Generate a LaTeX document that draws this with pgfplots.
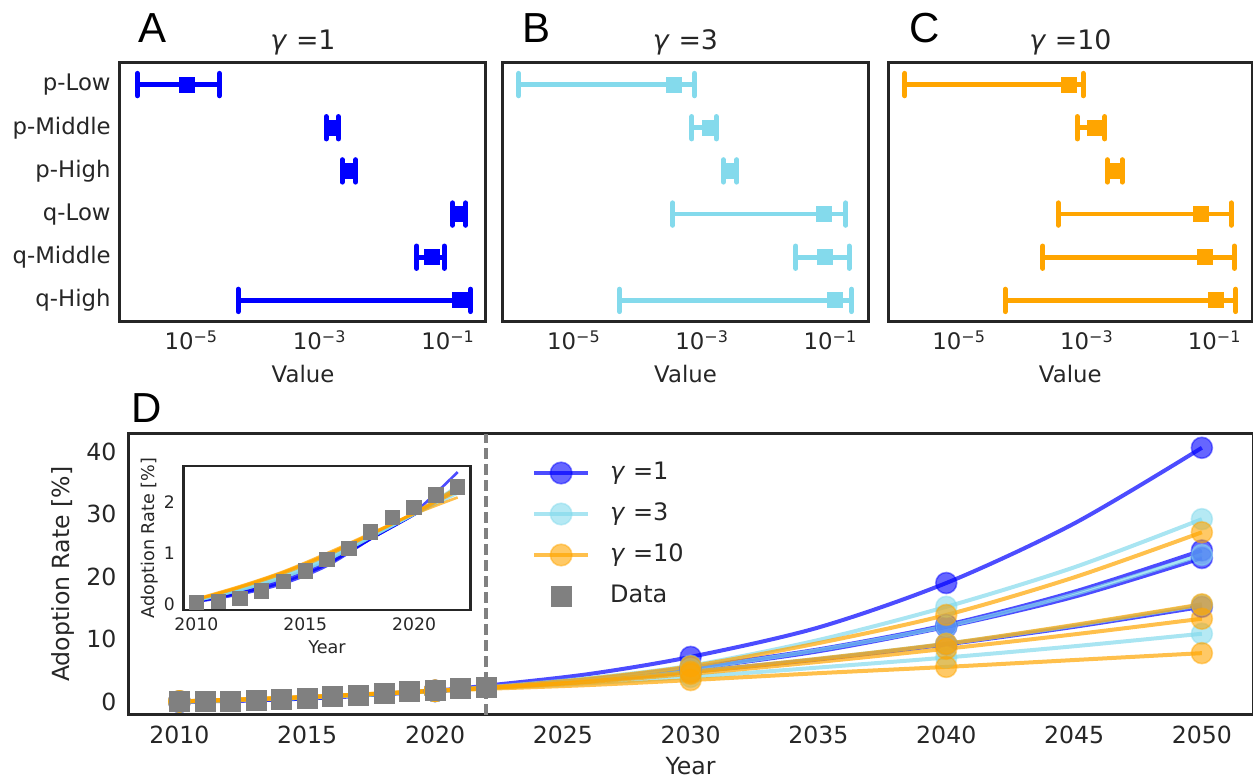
\documentclass[border=0pt]{standalone}
\usepackage{fontspec}
\setmainfont{DejaVu Sans}
\newfontfamily\letterfont{Liberation Sans}
\usepackage{pgfplots}
\pgfplotsset{compat=1.18}
\usepackage{pgfplotstable}
\definecolor{axcol}{RGB}{38,38,38}
\definecolor{cblue}{RGB}{0,0,255}
\definecolor{csky}{RGB}{132,218,236}
\definecolor{corange}{RGB}{255,165,0}
\definecolor{cgray}{RGB}{128,128,128}

\pgfplotstableread{
year val
2010 0.03
2011 0.05
2012 0.11
2013 0.26
2014 0.44
2015 0.65
2016 0.88
2017 1.09
2018 1.42
2019 1.71
2020 1.90
2021 2.15
2022 2.31
}\dataT

\pgfplotstableread{
year a b c d
2010 0.04 0.05 0.05 0.06
2012 0.19 0.21 0.22 0.25
2014 0.40 0.43 0.45 0.50
2016 0.75 0.78 0.80 0.85
2018 1.28 1.28 1.28 1.30
2020 1.80 1.76 1.76 1.76
2022 2.60 2.30 2.28 2.25
2026 4.45 3.60 3.50 3.30
2030 7.20 5.50 5.30 4.80
2035 11.9 8.40 8.10 6.80
2040 19.0 12.3 12.0 9.20
2045 28.5 17.6 16.8 12.0
2050 40.6 24.2 23.0 15.2
}\blueT

\pgfplotstableread{
year a b c d
2010 0.06 0.06 0.07 0.08
2012 0.27 0.27 0.29 0.31
2014 0.52 0.52 0.56 0.58
2016 0.86 0.86 0.90 0.92
2018 1.31 1.31 1.33 1.34
2020 1.78 1.77 1.77 1.76
2022 2.33 2.30 2.25 2.18
2026 3.80 3.50 3.30 3.00
2030 5.80 5.30 4.80 4.00
2035 9.90 8.30 6.90 5.50
2040 15.2 12.1 9.30 7.10
2045 21.5 17.2 12.2 8.90
2050 29.2 23.5 15.5 10.9
}\skyT

\pgfplotstableread{
year a b c d
2010 0.08 0.09 0.09 0.10
2012 0.32 0.33 0.34 0.35
2014 0.60 0.62 0.63 0.64
2016 0.95 0.97 0.98 1.00
2018 1.36 1.37 1.38 1.39
2020 1.80 1.79 1.79 1.77
2022 2.30 2.26 2.22 2.10
2026 3.70 3.30 3.20 2.70
2030 5.70 4.80 4.50 3.50
2035 9.40 6.90 6.40 4.60
2040 13.9 9.30 8.50 5.60
2045 19.9 12.3 10.8 6.70
2050 27.1 15.6 13.3 7.80
}\orangeT

% error bar row: colour, row, low, estimate, high
\newcommand{\eb}[5]{%
  \addplot[#1, line width=2.4pt, mark=|, mark size=5.6pt, mark options={line width=2.5pt, line cap=round}] coordinates {(#3,#2) (#5,#2)};
  \addplot[#1, only marks, mark=square*, mark size=3.75pt] coordinates {(#4,#2)};
}

\pgfplotsset{
  mybase/.style={scale only axis, axis line style={line width=1.5pt, draw=axcol},
    major tick length=0pt, minor tick length=0pt,
    tick label style={text=axcol, inner sep=0pt}, label style={text=axcol},
    /pgf/number format/assume math mode=true},
  toppanel/.style={mybase, height=129.5pt,
    xmin=7.76e-7, xmax=0.389, ymin=-0.5, ymax=5.5,
    xtick={1e-5,1e-3,1e-1},
    xticklabels={10\textsuperscript{−5},10\textsuperscript{−3},10\textsuperscript{−1}},
    xminorticks=false,
    tick label style={font=\fontsize{11.4}{13}\selectfont},
    xticklabel style={anchor=base, yshift=-14pt},
    yticklabel style={anchor=east, xshift=-4.5pt},
    xlabel={Value},
    xlabel style={font=\fontsize{11.4}{13}\selectfont, at={(axis description cs:0.5,-0.2355)}, anchor=base},
    title style={font=\fontsize{13.4}{15}\selectfont, text=axcol, at={(axis description cs:0.5,1.0039)}, anchor=base, yshift=0pt}},
  mline/.style={draw=#1, draw opacity=0.7, line width=2pt, smooth,
    mark=*, mark size=5.25pt, mark indices={1,6,9,11,13},
    mark options={draw=#1, fill=#1, draw opacity=0.45, fill opacity=0.6, line width=0.8pt}},
  lgline/.style={draw=#1, draw opacity=0.7, line width=2pt,
    mark=*, mark size=5.4pt,
    mark options={draw=#1, fill=#1, draw opacity=0.45, fill opacity=0.6, line width=0.8pt}},
  iline/.style={draw=#1, draw opacity=0.7, line width=1.3pt, smooth, no marks,
    restrict x to domain=2010:2022},
}

\begin{document}
\begin{tikzpicture}
\useasboundingbox (0,0) rectangle (626.5pt,-389.5pt);

% ---------- A ----------
\begin{axis}[xmode=log, toppanel, width=183pt, at={(60pt,-31.5pt)}, anchor=north west,
  ytick={0,1,2,3,4,5},
  yticklabels={q-High,q-Middle,q-Low,p-High,p-Middle,p-Low},
  title={\textit{γ} =1}]
\eb{cblue}{5}{1.45e-6}{8.5e-6}{2.75e-5}
\eb{cblue}{4}{1.26e-3}{1.58e-3}{1.95e-3}
\eb{cblue}{3}{2.24e-3}{2.75e-3}{3.63e-3}
\eb{cblue}{2}{0.117}{0.148}{0.188}
\eb{cblue}{1}{0.0324}{0.0569}{0.0871}
\eb{cblue}{0}{5.37e-5}{0.151}{0.224}
\end{axis}

% ---------- B ----------
\begin{axis}[xmode=log, toppanel, width=182.8pt, at={(251.35pt,-31.5pt)}, anchor=north west, ytick=\empty, title={\textit{γ} =3}]
\eb{csky}{5}{1.38e-6}{3.63e-4}{7.59e-4}
\eb{csky}{4}{6.92e-4}{1.32e-3}{1.66e-3}
\eb{csky}{3}{2.14e-3}{2.75e-3}{3.47e-3}
\eb{csky}{2}{3.47e-4}{0.0794}{0.174}
\eb{csky}{1}{0.0288}{0.0813}{0.195}
\eb{csky}{0}{5.13e-5}{0.117}{0.214}
\end{axis}

% ---------- C ----------
\begin{axis}[xmode=log, toppanel, width=182pt, at={(444.15pt,-31.5pt)}, anchor=north west, ytick=\empty, title={\textit{γ} =10}]
\eb{corange}{5}{1.41e-6}{5.13e-4}{8.71e-4}
\eb{corange}{4}{7.08e-4}{1.35e-3}{1.91e-3}
\eb{corange}{3}{2.09e-3}{2.75e-3}{3.55e-3}
\eb{corange}{2}{3.55e-4}{0.0617}{0.182}
\eb{corange}{1}{2.04e-4}{0.0708}{0.204}
\eb{corange}{0}{5.25e-5}{0.105}{0.214}
\end{axis}

% ---------- D ----------
\begin{axis}[mybase, at={(64.15pt,-217pt)}, anchor=north west,
  width=562.35pt, height=140.25pt,
  xmin=2008, xmax=2052, ymin=-2, ymax=42.8,
  xtick={2010,2015,2020,2025,2030,2035,2040,2045,2050},
  ytick={0,10,20,30,40},
  /pgf/number format/1000 sep={},
  tick label style={font=\fontsize{11.8}{14}\selectfont},
  xticklabel style={anchor=base, yshift=-14.5pt},
  yticklabel style={anchor=east, xshift=-5.8pt},
  xlabel={Year}, ylabel={Adoption Rate [\%]},
  xlabel style={font=\fontsize{11.8}{14}\selectfont, at={(axis description cs:0.5,-0.2139)}, anchor=base},
  ylabel style={font=\fontsize{11.8}{14}\selectfont, at={(axis description cs:-0.0578,0.5)}, anchor=center},
  legend image code/.code={\draw[mark repeat=2,mark phase=2,#1] plot coordinates {(0pt,0pt) (13.5pt,0pt) (27pt,0pt)};},
  legend cell align=left,
  legend style={at={(0.3587,0.903)}, anchor=north west, draw=none, fill=none,
    font=\fontsize{12}{14}\selectfont, text=axcol, inner sep=0pt,
    row sep=9.1pt, nodes={inner sep=0pt, text height=8.8pt, text depth=2.6pt},
    /tikz/every odd column/.append style={column sep=10pt}},
]
\addplot[mline=cblue, forget plot] table[x=year,y=a]{\blueT};
\addplot[mline=cblue, forget plot] table[x=year,y=b]{\blueT};
\addplot[mline=cblue, forget plot] table[x=year,y=c]{\blueT};
\addplot[mline=cblue, forget plot] table[x=year,y=d]{\blueT};
\addplot[mline=csky, forget plot] table[x=year,y=a]{\skyT};
\addplot[mline=csky, forget plot] table[x=year,y=b]{\skyT};
\addplot[mline=csky, forget plot] table[x=year,y=c]{\skyT};
\addplot[mline=csky, forget plot] table[x=year,y=d]{\skyT};
\addplot[mline=corange, forget plot] table[x=year,y=a]{\orangeT};
\addplot[mline=corange, forget plot] table[x=year,y=b]{\orangeT};
\addplot[mline=corange, forget plot] table[x=year,y=c]{\orangeT};
\addplot[mline=corange, forget plot] table[x=year,y=d]{\orangeT};
\addplot[cgray, line width=2.1pt, dash pattern=on 5.5pt off 2.5pt, forget plot] coordinates {(2022,-2) (2022,42.8)};
\addplot[only marks, mark=square*, mark size=5pt, cgray, forget plot] table[x=year,y=val]{\dataT};
\addlegendimage{lgline=cblue}
\addlegendentry{\textit{γ} =1}
\addlegendimage{lgline=csky}
\addlegendentry{\textit{γ} =3}
\addlegendimage{lgline=corange}
\addlegendentry{\textit{γ} =10}
\addlegendimage{only marks, mark=square*, mark size=5pt, cgray}
\addlegendentry{Data}
\end{axis}

% ---------- inset ----------
\begin{axis}[mybase, at={(91.65pt,-233pt)}, anchor=north west,
  width=143.7pt, height=72pt,
  axis line style={line width=1.2pt},
  axis background/.style={fill=white},
  xmin=2009.4, xmax=2022.6, ymin=-0.12, ymax=2.72,
  xtick={2010,2015,2020}, ytick={0,1,2},
  /pgf/number format/1000 sep={},
  tick label style={font=\fontsize{8.6}{10}\selectfont},
  xticklabel style={anchor=base, yshift=-10pt},
  yticklabel style={anchor=east, xshift=-4pt},
  xlabel={Year}, ylabel={Adoption Rate [\%]},
  xlabel style={font=\fontsize{8.8}{10}\selectfont, at={(axis description cs:0.5,-0.30)}, anchor=base},
  ylabel style={font=\fontsize{8.8}{10}\selectfont, at={(axis description cs:-0.116,0.5)}, anchor=center},
]
\addplot[iline=cblue] table[x=year,y=a]{\blueT};
\addplot[iline=cblue] table[x=year,y=b]{\blueT};
\addplot[iline=cblue] table[x=year,y=c]{\blueT};
\addplot[iline=cblue] table[x=year,y=d]{\blueT};
\addplot[iline=csky] table[x=year,y=a]{\skyT};
\addplot[iline=csky] table[x=year,y=b]{\skyT};
\addplot[iline=csky] table[x=year,y=c]{\skyT};
\addplot[iline=csky] table[x=year,y=d]{\skyT};
\addplot[iline=corange] table[x=year,y=a]{\orangeT};
\addplot[iline=corange] table[x=year,y=b]{\orangeT};
\addplot[iline=corange] table[x=year,y=c]{\orangeT};
\addplot[iline=corange] table[x=year,y=d]{\orangeT};
\addplot[only marks, mark=square*, mark size=3.6pt, cgray] table[x=year,y=val]{\dataT};
\end{axis}

% panel letters
\node[font=\letterfont\fontsize{21}{24}\selectfont, inner sep=0pt, anchor=center] at (76.25pt,-14.2pt) {A};
\node[font=\letterfont\fontsize{21}{24}\selectfont, inner sep=0pt, anchor=center] at (268.5pt,-14.2pt) {B};
\node[font=\letterfont\fontsize{21}{24}\selectfont, inner sep=0pt, anchor=center] at (462.3pt,-14.2pt) {C};
\node[font=\letterfont\fontsize{21}{24}\selectfont, inner sep=0pt, anchor=center] at (73.2pt,-204pt) {D};
\end{tikzpicture}
\end{document}
